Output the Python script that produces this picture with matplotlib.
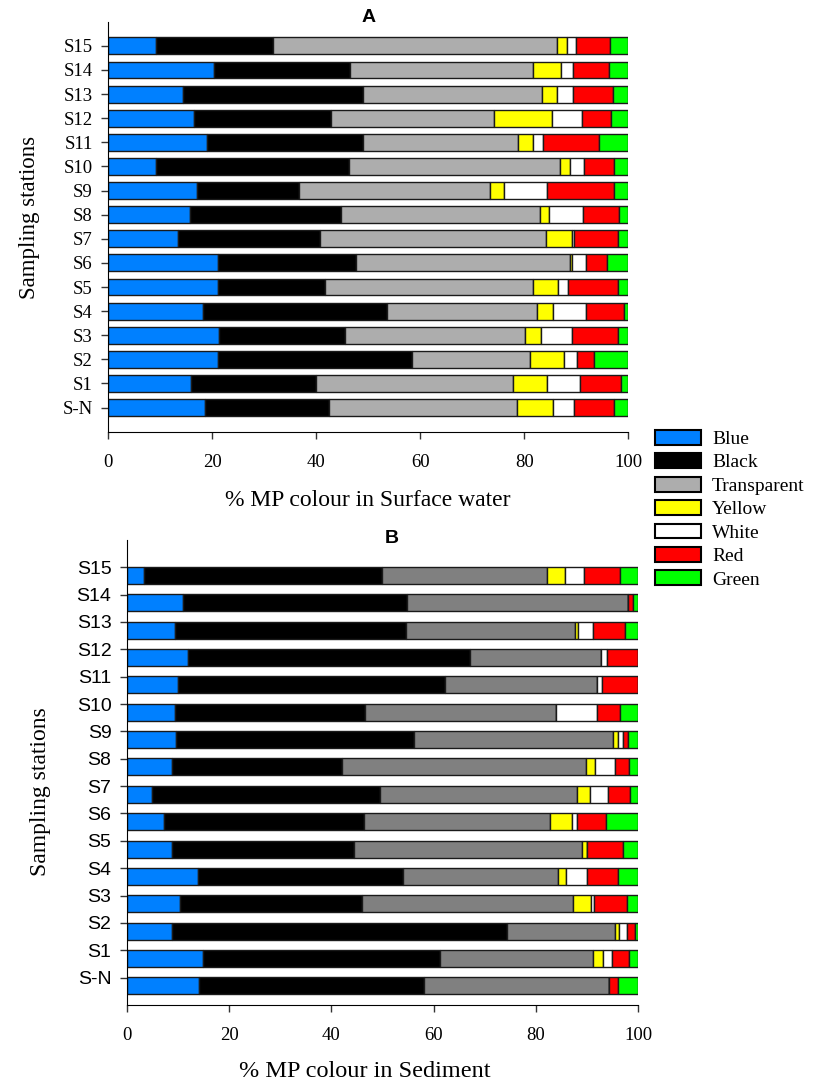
import numpy as np
import matplotlib.pyplot as plt
from matplotlib.patches import Patch

stations = ['S-N', 'S1', 'S2', 'S3', 'S4', 'S5', 'S6', 'S7',
            'S8', 'S9', 'S10', 'S11', 'S12', 'S13', 'S14', 'S15']
colour_names = ['Blue', 'Black', 'Transparent', 'Yellow', 'White', 'Red', 'Green']

# % share of each colour, surface water (S-N ... S15)
water_blue = [18.7, 15.9, 21.1, 21.4, 18.2, 21.1, 21.1, 13.5, 15.7, 17.2, 9.2, 19.0, 16.6, 14.5, 20.4, 9.2]
water_black = [23.7, 24.1, 37.3, 24.2, 35.4, 20.7, 26.5, 27.3, 29.1, 19.6, 37.2, 30.1, 26.2, 34.6, 26.2, 22.6]
water_transparent = [36.2, 37.8, 22.7, 34.6, 28.8, 39.8, 41.1, 43.4, 38.3, 36.6, 40.5, 29.7, 31.4, 34.3, 35.0, 54.4]
water_yellow = [7.0, 6.5, 6.6, 3.0, 3.1, 4.9, 0.5, 4.9, 1.6, 2.7, 1.8, 2.8, 11.1, 2.9, 5.5, 2.1]
water_white = [3.9, 6.4, 2.5, 6.0, 6.3, 1.9, 2.6, 0.5, 6.5, 8.3, 2.8, 2.0, 5.8, 3.0, 2.3, 1.6]
water_red = [7.7, 7.9, 3.3, 8.9, 7.3, 9.7, 4.2, 8.4, 7.0, 12.9, 5.8, 10.8, 5.6, 7.8, 6.8, 6.6]
water_green = [2.8, 1.4, 6.5, 1.9, 0.9, 1.9, 4.0, 2.0, 1.8, 2.7, 2.7, 5.6, 3.3, 2.9, 3.8, 3.5]

# % share of each colour, sediment (S-N ... S15)
sed_blue = [14.2, 15.0, 8.9, 10.5, 13.9, 8.9, 7.2, 4.9, 8.9, 9.7, 9.5, 10.1, 11.9, 9.5, 11.1, 3.3]
sed_black = [43.9, 46.3, 65.4, 35.4, 40.1, 35.6, 39.2, 44.7, 33.1, 46.4, 37.1, 52.1, 55.2, 45.1, 43.7, 46.7]
sed_transparent = [36.2, 29.9, 21.2, 41.3, 30.4, 44.4, 36.4, 38.4, 47.7, 38.9, 37.3, 29.8, 25.6, 33.0, 43.1, 32.1]
sed_yellow = [0.0, 1.9, 0.7, 3.5, 1.5, 1.0, 4.3, 2.5, 1.8, 1.0, 0.0, 0.0, 0.0, 0.7, 0.0, 3.5]
sed_white = [0.0, 1.7, 1.6, 0.6, 4.0, 0.0, 1.0, 3.5, 4.0, 1.0, 8.1, 1.0, 1.1, 2.8, 0.0, 3.7]
sed_red = [1.7, 3.3, 1.5, 6.5, 6.2, 7.1, 5.5, 4.3, 2.6, 1.0, 4.5, 7.0, 6.2, 6.3, 1.0, 7.1]
sed_green = [4.0, 1.9, 0.7, 2.2, 3.9, 3.0, 6.4, 1.7, 1.9, 2.0, 3.5, 0.0, 0.0, 2.6, 1.1, 3.6]

water = [water_blue, water_black, water_transparent, water_yellow, water_white, water_red, water_green]
sediment = [sed_blue, sed_black, sed_transparent, sed_yellow, sed_white, sed_red, sed_green]

colours_a = ['#0080ff', '#000000', '#adadad', '#ffff00', '#ffffff', '#ff0000', '#00ff00']
colours_b = ['#0080ff', '#000000', '#808080', '#ffff00', '#ffffff', '#ff0000', '#00ff00']

serif = ['Liberation Serif', 'DejaVu Serif']
sans = ['Liberation Sans', 'DejaVu Sans']

fig = plt.figure(figsize=(8.18, 10.82), dpi=100)
ax1 = fig.add_axes([0.1320, 0.6010, 0.6361, 0.3789])
ax2 = fig.add_axes([0.1549, 0.0712, 0.6254, 0.4298])


def stacked(ax, data, colours, height, shift):
    y = np.arange(len(stations))
    left = np.zeros(len(stations))
    for vals, col in zip(data, colours):
        vals = np.array(vals)
        ax.barh(y + shift, vals, left=left, height=height, color=col,
                edgecolor='#1a1a1a', linewidth=1.0)
        left += vals
    ax.set_xlim(0, 100)
    ax.set_ylim(-1, 16)
    ax.set_xticks([0, 20, 40, 60, 80, 100])
    ax.set_yticks(y)
    ax.set_yticklabels(stations)
    for s in ['top', 'right']:
        ax.spines[s].set_visible(False)
    ax.tick_params(direction='out', length=5, width=1, color='#333333', pad=6)
    ax.tick_params(axis='x', pad=11)
    for lab in ax.get_xticklabels():
        lab.set_family(serif)
        lab.set_fontsize(13.5)


stacked(ax1, water, colours_a, 0.7, 0.0)
stacked(ax2, sediment, colours_b, 0.62, -0.3)

for lab in ax1.get_yticklabels():
    lab.set_family(serif)
    lab.set_fontsize(13.5)
for lab in ax2.get_yticklabels():
    lab.set_family(sans)
    lab.set_fontsize(14)

ax1.set_xlabel('% MP colour in Surface water', family=serif, fontsize=17, labelpad=14)
ax1.set_ylabel('Sampling stations', family=serif, fontsize=16.5)
ax1.yaxis.set_label_coords(-0.131, 0.522)
ax2.set_xlabel('% MP colour in Sediment', family=serif, fontsize=17.5)
ax2.xaxis.set_label_coords(0.466, -0.121)
ax2.set_ylabel('Sampling stations', family=serif, fontsize=17)
ax2.yaxis.set_label_coords(-0.148, 0.458)

# panel letters sit right on the top edge of each axes
ax1.text(0.5, 1.0, 'A', transform=ax1.transAxes, ha='center', va='baseline',
         family=sans, fontsize=14, fontweight='bold')
ax2.text(0.518, 0.9935, 'B', transform=ax2.transAxes, ha='center', va='baseline',
         family=sans, fontsize=14, fontweight='bold')

handles = [Patch(facecolor=c, edgecolor='black', linewidth=1.5) for c in colours_a]
fig.legend(handles, colour_names, loc='upper left', bbox_to_anchor=(0.791, 0.610),
           frameon=False, prop={'family': serif, 'size': 14},
           handlelength=2.35, handleheight=0.8, handletextpad=0.6,
           labelspacing=0.27, borderaxespad=0)

fig.savefig('out.png', dpi=100)
